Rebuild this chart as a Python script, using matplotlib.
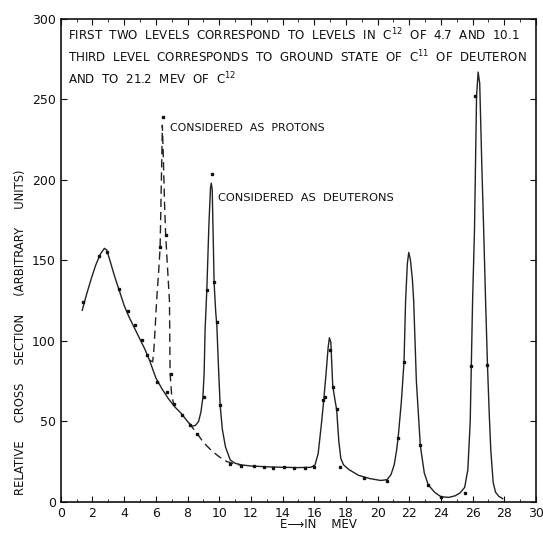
import matplotlib
matplotlib.use("Agg")
import matplotlib.pyplot as plt
from matplotlib.ticker import MultipleLocator

# main curve (solid)
curve_e = [1.35, 1.6, 1.9, 2.2, 2.5, 2.75, 2.9, 3.1, 3.4, 3.7, 4.0, 4.3, 4.6, 5.0, 5.3, 5.6,
           6.0, 6.4, 6.8, 7.2, 7.6, 8.0, 8.27, 8.5, 8.7, 8.85, 8.97, 9.05, 9.11, 9.22, 9.35, 9.45,
           9.5, 9.56, 9.62, 9.68, 9.78, 9.85, 9.95, 10.06, 10.2, 10.4, 10.7, 11.0, 11.4, 12.0,
           13.0, 14.0, 15.0, 15.8, 16.05, 16.25, 16.45, 16.6, 16.75, 16.88, 16.96, 17.05, 17.17,
           17.3, 17.42, 17.55, 17.68, 17.85, 18.2, 18.8, 19.5, 20.2, 20.6, 20.85, 21.05, 21.2,
           21.3, 21.5, 21.67, 21.77, 21.88, 21.97, 22.08, 22.2, 22.28, 22.45, 22.7, 22.95, 23.2,
           23.6, 24.0, 24.5, 24.9, 25.2, 25.5, 25.7, 25.85, 25.92, 26.0, 26.12, 26.25, 26.35,
           26.45, 26.58, 26.7, 26.82, 26.94, 27.05, 27.15, 27.3, 27.45, 27.65, 27.9]
curve_y = [119, 128, 138, 147, 154, 157.5, 156.5, 150, 140, 131, 122, 115, 109, 101, 95, 88,
           77, 70, 64, 59, 55, 50, 47, 47.5, 50, 56, 65, 80, 107, 132, 172, 195,
           198, 194, 165, 136, 118, 110, 85, 60, 45, 34, 26, 24, 23, 22.3,
           21.8, 21.5, 21.3, 21.5, 23, 30, 48, 63, 80, 96, 102, 99, 72,
           64, 57, 38, 27, 23, 20, 16.5, 14.5, 13.3, 13.8, 17, 23, 32,
           40, 62, 87, 125, 148, 155, 150, 138, 125, 75, 35, 18, 10.6,
           6, 3.2, 2.8, 3.8, 5.5, 9, 20, 50, 85, 125, 169, 252, 267,
           260, 210, 169, 125, 85, 55, 32, 12, 6, 3.5, 2]

# "considered as protons" peak (dashed)
proton_e = [5.62, 5.8, 5.88, 5.95, 6.05, 6.17, 6.27, 6.35, 6.41, 6.47, 6.55, 6.62, 6.74, 6.86, 6.9, 7.0, 7.15]
proton_y = [88, 87, 95, 107, 125, 142, 158, 200, 234, 215, 185, 166, 145, 125, 80, 66, 60]

# background continued under the deuteron peak (dashed)
backg_e = [8.1, 8.4, 8.63, 9.0, 9.5, 10.0, 10.5, 11.0, 11.4]
backg_y = [49, 45, 42.2, 37, 32, 28, 25, 23.5, 22.8]

# measured points
pts_e = [1.41, 2.43, 2.89, 3.69, 4.22, 4.66, 5.15, 5.42, 6.05, 6.69, 7.17, 7.68, 8.16, 8.63,
         6.27, 6.62, 6.45, 6.94, 9.05, 9.22, 9.54, 9.68, 9.85, 10.06,
         10.7, 11.4, 12.2, 12.8, 13.4, 14.1, 14.7, 15.4, 16.0,
         16.56, 16.69, 16.98, 17.17, 17.42, 17.6, 19.15, 20.6,
         21.3, 21.67, 22.7, 23.2, 24.0, 25.5, 25.9, 26.16, 26.94]
pts_y = [124, 153, 155.5, 132, 118.6, 110, 100.6, 91.3, 74.7, 68, 60.9, 54, 47.8, 42.2,
         158.6, 166, 239, 79.5, 65.4, 131.7, 204, 136.5, 111.6, 60.2,
         23.6, 22.6, 22, 21.5, 21.3, 21.5, 21.3, 21.0, 21.8,
         63.4, 65.4, 94.4, 71.6, 57.6, 21.5, 14.7, 13.1,
         40, 87, 35.4, 10.6, 2.9, 5.4, 84.5, 252, 85]

note_lines = [
    "FIRST  TWO  LEVELS  CORRESPOND  TO  LEVELS  IN  C$^{12}$  OF  4.7  AND  10.1",
    "THIRD  LEVEL  CORRESPONDS  TO  GROUND  STATE  OF  C$^{11}$  OF  DEUTERON",
    "AND  TO  21.2  MEV  OF  C$^{12}$",
]

ink = "#222222"
plt.rcParams["font.family"] = "DejaVu Sans"

fig = plt.figure(figsize=(5.43, 5.42), dpi=100)
ax = fig.add_axes([0.112, 0.074, 0.875, 0.891])

ax.plot(curve_e, curve_y, color=ink, lw=1.0)
ax.plot(proton_e, proton_y, color=ink, lw=1.0, dashes=(6, 3.5))
ax.plot(backg_e, backg_y, color=ink, lw=1.0, dashes=(6, 3.5))
ax.plot(pts_e, pts_y, ls="none", marker="s", ms=1.8, color="#111111")

ax.set_xlim(0, 30)
ax.set_ylim(0, 300)
ax.xaxis.set_major_locator(MultipleLocator(2))
ax.xaxis.set_minor_locator(MultipleLocator(1))
ax.yaxis.set_major_locator(MultipleLocator(50))
ax.tick_params(which="both", direction="in", top=True, right=True, labelsize=9, colors="#111111")
ax.tick_params(which="major", length=4, width=0.8)
ax.tick_params(which="minor", length=2, width=0.6)
for s in ax.spines.values():
    s.set_linewidth(1.2)
    s.set_color("#111111")

for i, line in enumerate(note_lines):
    ax.text(0.45, 290 - i * 13.5, line, fontsize=8.6, va="center", ha="left", color="#111111")

ax.text(6.9, 232, "CONSIDERED  AS  PROTONS", fontsize=7.8, va="center", color="#111111")
ax.text(9.95, 189, "CONSIDERED  AS  DEUTERONS", fontsize=8.2, va="center", color="#111111")

fig.text(0.037, 1 - 332 / 542, "RELATIVE     CROSS     SECTION     (ARBITRARY     UNITS)",
         rotation=90, fontsize=8.3, ha="center", va="center", color="#111111")
fig.text(318 / 543, 1 - 525 / 542, "E\u27f6IN    MEV", fontsize=8.5, ha="center", va="center",
         color="#111111")

fig.savefig("out.png", dpi=100)
